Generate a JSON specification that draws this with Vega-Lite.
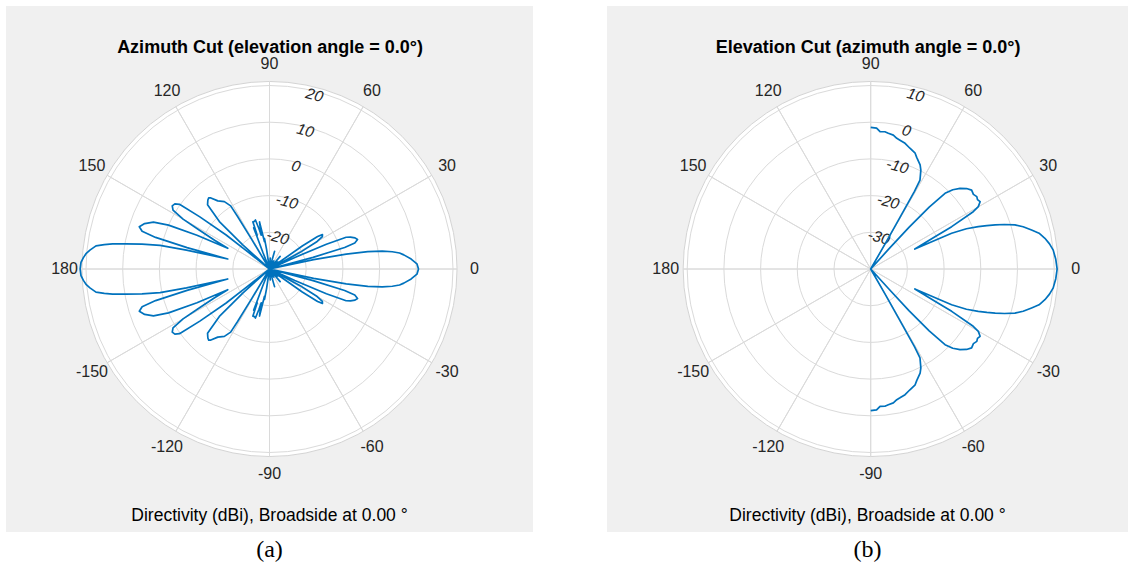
{
  "$schema": "https://vega.github.io/schema/vega-lite/v6.json",
  "background": "#ffffff",
  "padding": {"left": 6, "top": 6, "right": 0, "bottom": 0},
  "spacing": 74,
  "config": {"view": {"fill": "#f0f0f0", "stroke": null}},
  "resolve": {"scale": {"x": "independent", "y": "independent", "theta": "independent", "radius": "independent"}},
  "datasets": {
    "disk": [{"r": 51.1}],
    "spokes": [
      {"a": 0, "lab": "0"}, {"a": 30, "lab": "30"}, {"a": 60, "lab": "60"}, {"a": 90, "lab": "90"},
      {"a": 120, "lab": "120"}, {"a": 150, "lab": "150"}, {"a": 180, "lab": "180"}, {"a": -150, "lab": "-150"},
      {"a": -120, "lab": "-120"}, {"a": -90, "lab": "-90"}, {"a": -60, "lab": "-60"}, {"a": -30, "lab": "-30"}
    ],
    "ringsA": [{"r": 10, "lab": "-20"}, {"r": 20, "lab": "-10"}, {"r": 30, "lab": "0"}, {"r": 40, "lab": "10"}, {"r": 50, "lab": "20"}],
    "ringsE": [{"r": 10, "lab": "-30"}, {"r": 20, "lab": "-20"}, {"r": 30, "lab": "-10"}, {"r": 40, "lab": "0"}, {"r": 50, "lab": "10"}],
    "az": [
      {"a": -180, "d": 21.6}, {"a": -178, "d": 21.4}, {"a": -176.5, "d": 20.8}, {"a": -175.1, "d": 20.1}, {"a": -174, "d": 19.2},
      {"a": -172.4, "d": 17.7}, {"a": -171.6, "d": 15.5}, {"a": -170.9, "d": 13.3}, {"a": -170.1, "d": 9.8}, {"a": -169, "d": 5.4},
      {"a": -167.8, "d": 0.5}, {"a": -167.2, "d": -6.8}, {"a": -166.5, "d": -18.3}, {"a": -165.5, "d": -6.8}, {"a": -164.5, "d": 2.2},
      {"a": -163.5, "d": 6.2}, {"a": -162, "d": 7.3}, {"a": -160, "d": 6.2}, {"a": -158, "d": 4.1}, {"a": -156.5, "d": 0.0},
      {"a": -155, "d": -8.2}, {"a": -153.6, "d": -17.3}, {"a": -152.3, "d": -13.1}, {"a": -151, "d": -8.2}, {"a": -150, "d": -2.8},
      {"a": -148.6, "d": 0.8}, {"a": -147, "d": 1.6}, {"a": -145.5, "d": 1.3}, {"a": -144.3, "d": 0.2}, {"a": -143.2, "d": -6.3},
      {"a": -141.9, "d": -15.0}, {"a": -141.6, "d": -21.8}, {"a": -141.3, "d": -32}, {"a": -139, "d": -32}, {"a": -138, "d": -20.2},
      {"a": -136.6, "d": -11.2}, {"a": -134, "d": -5.7}, {"a": -131.8, "d": -4.8}, {"a": -130.5, "d": -4.5}, {"a": -129.5, "d": -4.9},
      {"a": -127.2, "d": -6.7}, {"a": -123.8, "d": -7.9}, {"a": -121.6, "d": -9.8}, {"a": -121.3, "d": -13.1}, {"a": -121, "d": -20.5},
      {"a": -120.5, "d": -32}, {"a": -119, "d": -32}, {"a": -116, "d": -27.3}, {"a": -113, "d": -32}, {"a": -111.8, "d": -25.1},
      {"a": -111, "d": -18.0}, {"a": -110, "d": -20.2}, {"a": -109.4, "d": -16.4}, {"a": -107.5, "d": -16.4}, {"a": -106, "d": -16.1},
      {"a": -104.7, "d": -18.6}, {"a": -103.7, "d": -20.5}, {"a": -102, "d": -16.9}, {"a": -100.5, "d": -22.4}, {"a": -99.3, "d": -21.6},
      {"a": -98.5, "d": -24.6}, {"a": -97, "d": -32}, {"a": -91, "d": -32}, {"a": -86, "d": -27.0}, {"a": -79, "d": -32},
      {"a": -74, "d": -25.0}, {"a": -67, "d": -32}, {"a": -62, "d": -27.5}, {"a": -55, "d": -32}, {"a": -50, "d": -25.5},
      {"a": -43, "d": -32}, {"a": -40, "d": -27.0}, {"a": -36.5, "d": -32}, {"a": -35, "d": -19.1}, {"a": -34, "d": -14.2},
      {"a": -33, "d": -12.8}, {"a": -31.5, "d": -13.1}, {"a": -30, "d": -15.0}, {"a": -28.5, "d": -20.5}, {"a": -27, "d": -32},
      {"a": -25.5, "d": -32}, {"a": -24.5, "d": -22.4}, {"a": -23.5, "d": -13.1}, {"a": -22.5, "d": -7.4}, {"a": -21.5, "d": -6.3},
      {"a": -20, "d": -5.2}, {"a": -18.5, "d": -4.7}, {"a": -17, "d": -5.7}, {"a": -16, "d": -8.7}, {"a": -15, "d": -17.7},
      {"a": -14, "d": -32}, {"a": -13, "d": -32}, {"a": -12, "d": -17.7}, {"a": -11, "d": -8.7}, {"a": -10, "d": -2.8},
      {"a": -9, "d": 1.1}, {"a": -8, "d": 3.8}, {"a": -7, "d": 5.7}, {"a": -6, "d": 6.8}, {"a": -4, "d": 8.7},
      {"a": -2, "d": 10.2}, {"a": 0, "d": 10.6}, {"a": 2, "d": 10.2}, {"a": 4, "d": 8.7}, {"a": 6, "d": 6.8},
      {"a": 7, "d": 5.7}, {"a": 8, "d": 3.8}, {"a": 9, "d": 1.1}, {"a": 10, "d": -2.8}, {"a": 11, "d": -8.7},
      {"a": 12, "d": -17.7}, {"a": 13, "d": -32}, {"a": 14, "d": -32}, {"a": 15, "d": -17.7}, {"a": 16, "d": -8.7},
      {"a": 17, "d": -5.7}, {"a": 18.5, "d": -4.7}, {"a": 20, "d": -5.2}, {"a": 21.5, "d": -6.3}, {"a": 22.5, "d": -7.4},
      {"a": 23.5, "d": -13.1}, {"a": 24.5, "d": -22.4}, {"a": 25.5, "d": -32}, {"a": 27, "d": -32}, {"a": 28.5, "d": -20.5},
      {"a": 30, "d": -15.0}, {"a": 31.5, "d": -13.1}, {"a": 33, "d": -12.8}, {"a": 34, "d": -14.2}, {"a": 35, "d": -19.1},
      {"a": 36.5, "d": -32}, {"a": 40, "d": -27.0}, {"a": 43, "d": -32}, {"a": 50, "d": -25.5}, {"a": 55, "d": -32},
      {"a": 62, "d": -27.5}, {"a": 67, "d": -32}, {"a": 74, "d": -25.0}, {"a": 79, "d": -32}, {"a": 86, "d": -27.0},
      {"a": 91, "d": -32}, {"a": 97, "d": -32}, {"a": 98.5, "d": -24.6}, {"a": 99.3, "d": -21.6}, {"a": 100.5, "d": -22.4},
      {"a": 102, "d": -16.9}, {"a": 103.7, "d": -20.5}, {"a": 104.7, "d": -18.6}, {"a": 106, "d": -16.1}, {"a": 107.5, "d": -16.4},
      {"a": 109.4, "d": -16.4}, {"a": 110, "d": -20.2}, {"a": 111, "d": -18.0}, {"a": 111.8, "d": -25.1}, {"a": 113, "d": -32},
      {"a": 116, "d": -27.3}, {"a": 119, "d": -32}, {"a": 120.5, "d": -32}, {"a": 121, "d": -20.5}, {"a": 121.3, "d": -13.1},
      {"a": 121.6, "d": -9.8}, {"a": 123.8, "d": -7.9}, {"a": 127.2, "d": -6.7}, {"a": 129.5, "d": -4.9}, {"a": 130.5, "d": -4.5},
      {"a": 131.8, "d": -4.8}, {"a": 134, "d": -5.7}, {"a": 136.6, "d": -11.2}, {"a": 138, "d": -20.2}, {"a": 139, "d": -32},
      {"a": 141.3, "d": -32}, {"a": 141.6, "d": -21.8}, {"a": 141.9, "d": -15.0}, {"a": 143.2, "d": -6.3}, {"a": 144.3, "d": 0.2},
      {"a": 145.5, "d": 1.3}, {"a": 147, "d": 1.6}, {"a": 148.6, "d": 0.8}, {"a": 150, "d": -2.8}, {"a": 151, "d": -8.2},
      {"a": 152.3, "d": -13.1}, {"a": 153.6, "d": -17.3}, {"a": 155, "d": -8.2}, {"a": 156.5, "d": 0.0}, {"a": 158, "d": 4.1},
      {"a": 160, "d": 6.2}, {"a": 162, "d": 7.3}, {"a": 163.5, "d": 6.2}, {"a": 164.5, "d": 2.2}, {"a": 165.5, "d": -6.8},
      {"a": 166.5, "d": -18.3}, {"a": 167.2, "d": -6.8}, {"a": 167.8, "d": 0.5}, {"a": 169, "d": 5.4}, {"a": 170.1, "d": 9.8},
      {"a": 170.9, "d": 13.3}, {"a": 171.6, "d": 15.5}, {"a": 172.4, "d": 17.7}, {"a": 174, "d": 19.2}, {"a": 175.1, "d": 20.1},
      {"a": 176.5, "d": 20.8}, {"a": 178, "d": 21.4}, {"a": 180, "d": 21.6}
    ],
    "el": [
      {"a": -90, "d": -1.4}, {"a": -87.6, "d": -1.6}, {"a": -86.1, "d": -2.5}, {"a": -84.1, "d": -2.4}, {"a": -82.6, "d": -2.7},
      {"a": -80.4, "d": -3.0}, {"a": -78.7, "d": -3.7}, {"a": -77.2, "d": -4.0}, {"a": -74.7, "d": -4.5}, {"a": -72, "d": -5.4},
      {"a": -69, "d": -6.2}, {"a": -67.6, "d": -7.1}, {"a": -64.6, "d": -8.6}, {"a": -63.1, "d": -9.8}, {"a": -61.8, "d": -11.4},
      {"a": -61, "d": -12.3}, {"a": -60.6, "d": -15.7}, {"a": -60.4, "d": -24.7}, {"a": -60.2, "d": -32.1}, {"a": -60, "d": -45},
      {"a": -48.2, "d": -45}, {"a": -47.8, "d": -32.9}, {"a": -47.4, "d": -24.6}, {"a": -46.6, "d": -16.8}, {"a": -45.5, "d": -11.1},
      {"a": -44, "d": -8.9}, {"a": -42.1, "d": -7.2}, {"a": -40, "d": -5.9}, {"a": -38, "d": -5.1}, {"a": -36, "d": -5.4},
      {"a": -34.3, "d": -5.0}, {"a": -33, "d": -5.3}, {"a": -31.6, "d": -5.0}, {"a": -30.1, "d": -6.1}, {"a": -29.2, "d": -8.0},
      {"a": -27.6, "d": -15.1}, {"a": -26.7, "d": -20.4}, {"a": -24.3, "d": -26.8}, {"a": -23.8, "d": -15.9}, {"a": -22.8, "d": -11.7},
      {"a": -21.5, "d": -8.5}, {"a": -20.5, "d": -6.2}, {"a": -19.5, "d": -4.0}, {"a": -18.4, "d": -1.6}, {"a": -17, "d": 1.1},
      {"a": -15.5, "d": 3.1}, {"a": -13.6, "d": 5.1}, {"a": -12, "d": 6.9}, {"a": -10, "d": 8.2}, {"a": -8, "d": 9.2},
      {"a": -5.9, "d": 10.0}, {"a": -3, "d": 10.5}, {"a": 0, "d": 10.8}, {"a": 3, "d": 10.5}, {"a": 5.9, "d": 10.0},
      {"a": 8, "d": 9.2}, {"a": 10, "d": 8.2}, {"a": 12, "d": 6.9}, {"a": 13.6, "d": 5.1}, {"a": 15.5, "d": 3.1},
      {"a": 17, "d": 1.1}, {"a": 18.4, "d": -1.6}, {"a": 19.5, "d": -4.0}, {"a": 20.5, "d": -6.2}, {"a": 21.5, "d": -8.5},
      {"a": 22.8, "d": -11.7}, {"a": 23.8, "d": -15.9}, {"a": 24.3, "d": -26.8}, {"a": 26.7, "d": -20.4}, {"a": 27.6, "d": -15.1},
      {"a": 29.2, "d": -8.0}, {"a": 30.1, "d": -6.1}, {"a": 31.6, "d": -5.0}, {"a": 33, "d": -5.3}, {"a": 34.3, "d": -5.0},
      {"a": 36, "d": -5.4}, {"a": 38, "d": -5.1}, {"a": 40, "d": -5.9}, {"a": 42.1, "d": -7.2}, {"a": 44, "d": -8.9},
      {"a": 45.5, "d": -11.1}, {"a": 46.6, "d": -16.8}, {"a": 47.4, "d": -24.6}, {"a": 47.8, "d": -32.9}, {"a": 48.2, "d": -45},
      {"a": 60, "d": -45}, {"a": 60.2, "d": -32.1}, {"a": 60.4, "d": -24.7}, {"a": 60.6, "d": -15.7}, {"a": 61, "d": -12.3},
      {"a": 61.8, "d": -11.4}, {"a": 63.1, "d": -9.8}, {"a": 64.6, "d": -8.6}, {"a": 67.6, "d": -7.1}, {"a": 69, "d": -6.2},
      {"a": 72, "d": -5.4}, {"a": 74.7, "d": -4.5}, {"a": 77.2, "d": -4.0}, {"a": 78.7, "d": -3.7}, {"a": 80.4, "d": -3.0},
      {"a": 82.6, "d": -2.7}, {"a": 84.1, "d": -2.4}, {"a": 86.1, "d": -2.5}, {"a": 87.6, "d": -1.6}, {"a": 90, "d": -1.4}
    ]
  },
  "hconcat": [
    {
      "width": 527,
      "height": 526,
      "title": {"text": "Directivity (dBi), Broadside at 0.00 °", "subtitle": "(a)", "orient": "bottom", "anchor": "middle", "frame": "group", "offset": -25, "font": "Liberation Sans", "fontSize": 17.5, "fontWeight": "normal", "color": "#000000", "subtitleFont": "Liberation Serif", "subtitleFontSize": 24, "subtitleColor": "#000000", "subtitlePadding": 13.5},
      "layer": [
        {
          "data": {"name": "disk"},
          "mark": {"type": "arc", "theta": 0, "theta2": 6.2832, "fill": "#ffffff", "stroke": "#d4d4d4", "strokeWidth": 1},
          "encoding": {
            "x": {"datum": 0, "type": "quantitative", "scale": {"domain": [-71.8, 71.8], "nice": false, "zero": false}, "axis": {"orient": "top", "title": "Azimuth Cut (elevation angle = 0.0°)", "domain": false, "ticks": false, "labels": false, "grid": false, "titlePadding": -46, "titleFont": "Liberation Sans", "titleFontSize": 18, "titleFontWeight": "bold", "titleColor": "#000000", "titleBaseline": "alphabetic", "minExtent": 0, "maxExtent": 0}},
            "y": {"datum": 0, "type": "quantitative", "scale": {"domain": [-71.66, 71.66], "nice": false, "zero": false}, "axis": null},
            "radius": {"field": "r", "type": "quantitative", "stack": null, "scale": {"type": "linear", "domain": [0, 50], "range": [0, 183.5], "zero": true, "nice": false}}
          }
        },
        {
          "data": {"name": "ringsA"},
          "mark": {"type": "arc", "theta": 0, "theta2": 6.2832, "filled": false, "fill": null, "stroke": "#dadada", "strokeWidth": 1},
          "encoding": {
            "x": {"datum": 0, "type": "quantitative", "axis": {"orient": "top", "title": "Azimuth Cut (elevation angle = 0.0°)", "domain": false, "ticks": false, "labels": false, "grid": false, "titlePadding": -46, "titleFont": "Liberation Sans", "titleFontSize": 18, "titleFontWeight": "bold", "titleColor": "#000000", "titleBaseline": "alphabetic", "minExtent": 0, "maxExtent": 0}},
            "y": {"datum": 0, "type": "quantitative", "axis": null},
            "radius": {"field": "r", "type": "quantitative", "stack": null}
          }
        },
        {
          "data": {"name": "spokes"},
          "mark": {"type": "arc", "filled": false, "fill": null, "stroke": "#dadada", "strokeWidth": 1},
          "encoding": {
            "x": {"datum": 0, "type": "quantitative", "axis": {"orient": "top", "title": "Azimuth Cut (elevation angle = 0.0°)", "domain": false, "ticks": false, "labels": false, "grid": false, "titlePadding": -46, "titleFont": "Liberation Sans", "titleFontSize": 18, "titleFontWeight": "bold", "titleColor": "#000000", "titleBaseline": "alphabetic", "minExtent": 0, "maxExtent": 0}},
            "y": {"datum": 0, "type": "quantitative", "axis": null},
            "theta": {"field": "a", "type": "quantitative", "stack": null, "scale": {"type": "linear", "domain": [90, -270], "range": [0, 6.283185307179586], "zero": false, "nice": false}},
            "theta2": {"field": "a"},
            "radius": {"datum": 51.1, "type": "quantitative"}
          }
        },
        {
          "data": {"name": "spokes"},
          "mark": {"type": "text", "font": "Liberation Sans", "fontSize": 16, "color": "#262626", "align": "center", "baseline": "middle"},
          "encoding": {
            "x": {"datum": 0, "type": "quantitative", "axis": {"orient": "top", "title": "Azimuth Cut (elevation angle = 0.0°)", "domain": false, "ticks": false, "labels": false, "grid": false, "titlePadding": -46, "titleFont": "Liberation Sans", "titleFontSize": 18, "titleFontWeight": "bold", "titleColor": "#000000", "titleBaseline": "alphabetic", "minExtent": 0, "maxExtent": 0}},
            "y": {"datum": 0, "type": "quantitative", "axis": null},
            "theta": {"field": "a", "type": "quantitative", "stack": null},
            "radius": {"datum": 55.86, "type": "quantitative"},
            "text": {"field": "lab"}
          }
        },
        {
          "data": {"name": "ringsA"},
          "mark": {"type": "text", "font": "Liberation Sans", "fontSize": 15.5, "fontStyle": "italic", "color": "#262626", "align": "center", "baseline": "middle", "angle": 15, "radiusOffset": -4},
          "encoding": {
            "x": {"datum": 0, "type": "quantitative", "axis": {"orient": "top", "title": "Azimuth Cut (elevation angle = 0.0°)", "domain": false, "ticks": false, "labels": false, "grid": false, "titlePadding": -46, "titleFont": "Liberation Sans", "titleFontSize": 18, "titleFontWeight": "bold", "titleColor": "#000000", "titleBaseline": "alphabetic", "minExtent": 0, "maxExtent": 0}},
            "y": {"datum": 0, "type": "quantitative", "axis": null},
            "theta": {"datum": 75.5, "type": "quantitative"},
            "radius": {"field": "r", "type": "quantitative", "stack": null},
            "text": {"field": "lab"}
          }
        },
        {
          "data": {"name": "az"},
          "transform": [
            {"calculate": "max(0, datum.d + 30)", "as": "r"},
            {"calculate": "datum.r * cos(datum.a * PI / 180)", "as": "x"},
            {"calculate": "datum.r * sin(datum.a * PI / 180)", "as": "y"}
          ],
          "mark": {"type": "line", "stroke": "#0072BD", "strokeWidth": 1.7, "strokeJoin": "round"},
          "encoding": {
            "x": {"field": "x", "type": "quantitative", "axis": {"orient": "top", "title": "Azimuth Cut (elevation angle = 0.0°)", "domain": false, "ticks": false, "labels": false, "grid": false, "titlePadding": -46, "titleFont": "Liberation Sans", "titleFontSize": 18, "titleFontWeight": "bold", "titleColor": "#000000", "titleBaseline": "alphabetic", "minExtent": 0, "maxExtent": 0}},
            "y": {"field": "y", "type": "quantitative", "axis": null},
            "order": {"field": "a", "type": "quantitative"}
          }
        }
      ]
    },
    {
      "width": 521,
      "height": 526,
      "title": {"text": "Directivity (dBi), Broadside at 0.00 °", "subtitle": "(b)", "orient": "bottom", "anchor": "middle", "frame": "group", "offset": -25, "font": "Liberation Sans", "fontSize": 17.5, "fontWeight": "normal", "color": "#000000", "subtitleFont": "Liberation Serif", "subtitleFontSize": 24, "subtitleColor": "#000000", "subtitlePadding": 13.5},
      "layer": [
        {
          "data": {"name": "disk"},
          "mark": {"type": "arc", "theta": 0, "theta2": 6.2832, "fill": "#ffffff", "stroke": "#d4d4d4", "strokeWidth": 1},
          "encoding": {
            "x": {"datum": 0, "type": "quantitative", "scale": {"domain": [-71.85, 70.11], "nice": false, "zero": false}, "axis": {"orient": "top", "title": "Elevation Cut (azimuth angle = 0.0°)", "domain": false, "ticks": false, "labels": false, "grid": false, "titlePadding": -46, "titleFont": "Liberation Sans", "titleFontSize": 18, "titleFontWeight": "bold", "titleColor": "#000000", "titleBaseline": "alphabetic", "minExtent": 0, "maxExtent": 0}},
            "y": {"datum": 0, "type": "quantitative", "scale": {"domain": [-71.66, 71.66], "nice": false, "zero": false}, "axis": null},
            "radius": {"field": "r", "type": "quantitative", "stack": null, "scale": {"type": "linear", "domain": [0, 50], "range": [0, 183.5], "zero": true, "nice": false}}
          }
        },
        {
          "data": {"name": "ringsE"},
          "mark": {"type": "arc", "theta": 0, "theta2": 6.2832, "filled": false, "fill": null, "stroke": "#dadada", "strokeWidth": 1},
          "encoding": {
            "x": {"datum": 0, "type": "quantitative", "axis": {"orient": "top", "title": "Elevation Cut (azimuth angle = 0.0°)", "domain": false, "ticks": false, "labels": false, "grid": false, "titlePadding": -46, "titleFont": "Liberation Sans", "titleFontSize": 18, "titleFontWeight": "bold", "titleColor": "#000000", "titleBaseline": "alphabetic", "minExtent": 0, "maxExtent": 0}},
            "y": {"datum": 0, "type": "quantitative", "axis": null},
            "radius": {"field": "r", "type": "quantitative", "stack": null}
          }
        },
        {
          "data": {"name": "spokes"},
          "mark": {"type": "arc", "filled": false, "fill": null, "stroke": "#dadada", "strokeWidth": 1},
          "encoding": {
            "x": {"datum": 0, "type": "quantitative", "axis": {"orient": "top", "title": "Elevation Cut (azimuth angle = 0.0°)", "domain": false, "ticks": false, "labels": false, "grid": false, "titlePadding": -46, "titleFont": "Liberation Sans", "titleFontSize": 18, "titleFontWeight": "bold", "titleColor": "#000000", "titleBaseline": "alphabetic", "minExtent": 0, "maxExtent": 0}},
            "y": {"datum": 0, "type": "quantitative", "axis": null},
            "theta": {"field": "a", "type": "quantitative", "stack": null, "scale": {"type": "linear", "domain": [90, -270], "range": [0, 6.283185307179586], "zero": false, "nice": false}},
            "theta2": {"field": "a"},
            "radius": {"datum": 51.1, "type": "quantitative"}
          }
        },
        {
          "data": {"name": "spokes"},
          "mark": {"type": "text", "font": "Liberation Sans", "fontSize": 16, "color": "#262626", "align": "center", "baseline": "middle"},
          "encoding": {
            "x": {"datum": 0, "type": "quantitative", "axis": {"orient": "top", "title": "Elevation Cut (azimuth angle = 0.0°)", "domain": false, "ticks": false, "labels": false, "grid": false, "titlePadding": -46, "titleFont": "Liberation Sans", "titleFontSize": 18, "titleFontWeight": "bold", "titleColor": "#000000", "titleBaseline": "alphabetic", "minExtent": 0, "maxExtent": 0}},
            "y": {"datum": 0, "type": "quantitative", "axis": null},
            "theta": {"field": "a", "type": "quantitative", "stack": null},
            "radius": {"datum": 55.86, "type": "quantitative"},
            "text": {"field": "lab"}
          }
        },
        {
          "data": {"name": "ringsE"},
          "mark": {"type": "text", "font": "Liberation Sans", "fontSize": 15.5, "fontStyle": "italic", "color": "#262626", "align": "center", "baseline": "middle", "angle": 15, "radiusOffset": -4},
          "encoding": {
            "x": {"datum": 0, "type": "quantitative", "axis": {"orient": "top", "title": "Elevation Cut (azimuth angle = 0.0°)", "domain": false, "ticks": false, "labels": false, "grid": false, "titlePadding": -46, "titleFont": "Liberation Sans", "titleFontSize": 18, "titleFontWeight": "bold", "titleColor": "#000000", "titleBaseline": "alphabetic", "minExtent": 0, "maxExtent": 0}},
            "y": {"datum": 0, "type": "quantitative", "axis": null},
            "theta": {"datum": 75.5, "type": "quantitative"},
            "radius": {"field": "r", "type": "quantitative", "stack": null},
            "text": {"field": "lab"}
          }
        },
        {
          "data": {"name": "el"},
          "transform": [
            {"calculate": "max(0, datum.d + 40)", "as": "r"},
            {"calculate": "datum.r * cos(datum.a * PI / 180)", "as": "x"},
            {"calculate": "datum.r * sin(datum.a * PI / 180)", "as": "y"}
          ],
          "mark": {"type": "line", "stroke": "#0072BD", "strokeWidth": 1.7, "strokeJoin": "round"},
          "encoding": {
            "x": {"field": "x", "type": "quantitative", "axis": {"orient": "top", "title": "Elevation Cut (azimuth angle = 0.0°)", "domain": false, "ticks": false, "labels": false, "grid": false, "titlePadding": -46, "titleFont": "Liberation Sans", "titleFontSize": 18, "titleFontWeight": "bold", "titleColor": "#000000", "titleBaseline": "alphabetic", "minExtent": 0, "maxExtent": 0}},
            "y": {"field": "y", "type": "quantitative", "axis": null},
            "order": {"field": "a", "type": "quantitative"}
          }
        }
      ]
    }
  ]
}
